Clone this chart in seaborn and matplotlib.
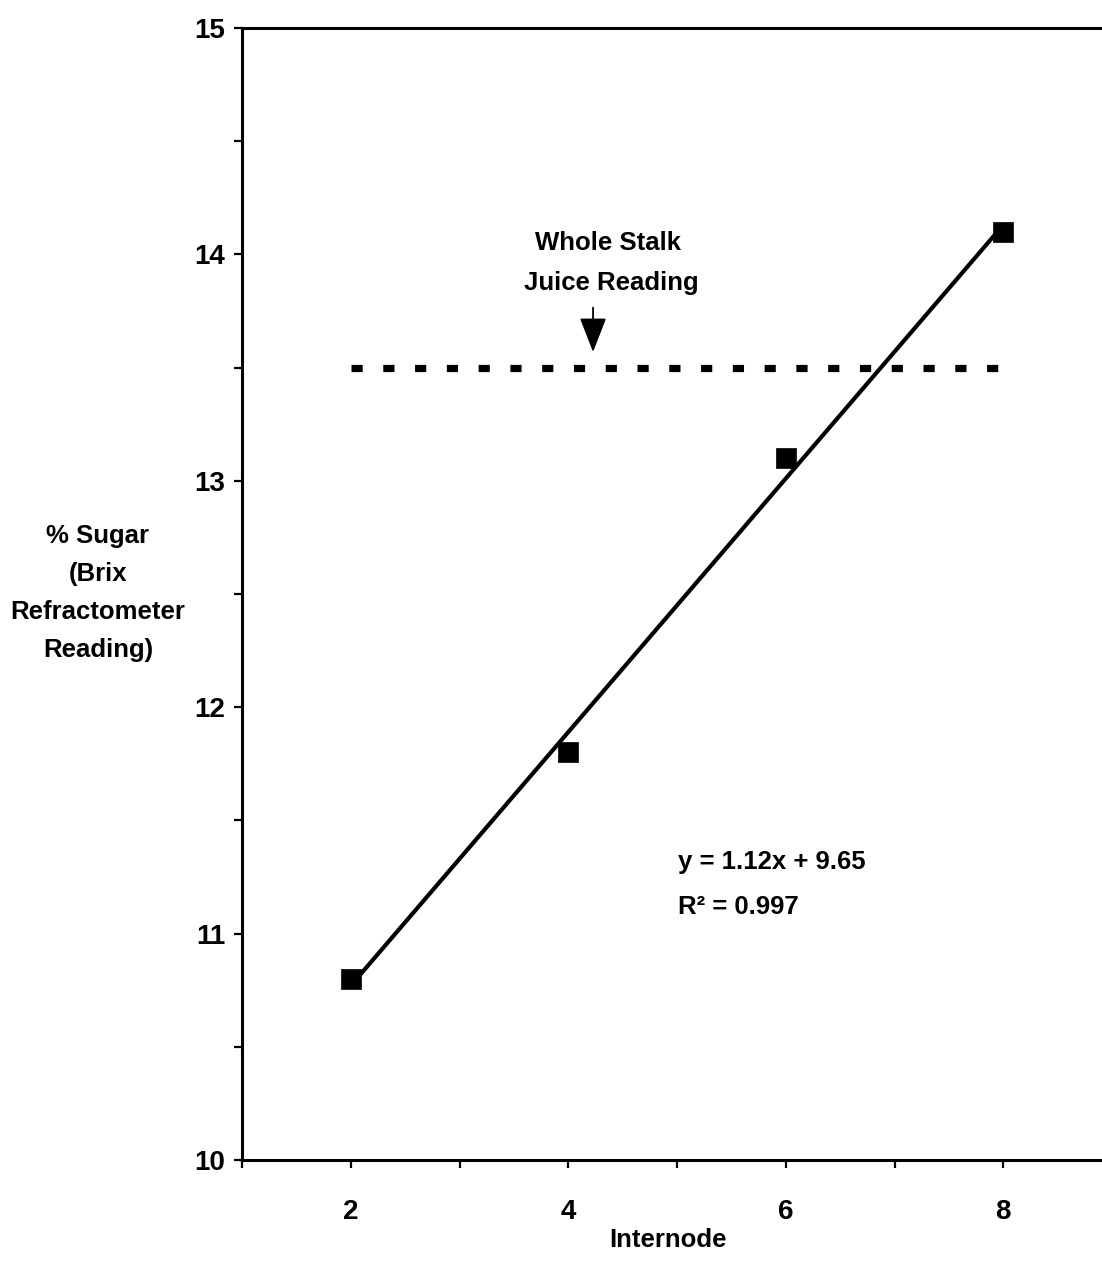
import matplotlib
matplotlib.use("Agg")
import matplotlib.pyplot as plt
import seaborn as sns
import numpy as np
import pandas as pd

# ---- data ----
internode = [2, 4, 6, 8]
sugar = [10.8, 11.8, 13.1, 14.1]
fit_slope = 1.12        # per internode index (x/2)
fit_intercept = 9.65
whole_stalk_reading = 13.5
x_ticks = [1, 2, 3, 4, 5, 6, 7, 8, 9]
x_tick_labels = ["", "2", "", "4", "", "6", "", "8", ""]
y_ticks = [10, 10.5, 11, 11.5, 12, 12.5, 13, 13.5, 14, 14.5, 15]
y_tick_labels = ["10", "", "11", "", "12", "", "13", "", "14", "", "15"]

sns.set_theme(style="white")
plt.rcParams['font.family'] = ["Liberation Sans", "DejaVu Sans"]
plt.rcParams['font.weight'] = 'bold'
plt.rcParams['text.color'] = 'black'
plt.rcParams['axes.labelcolor'] = 'black'
plt.rcParams['xtick.color'] = 'black'
plt.rcParams['ytick.color'] = 'black'

fs = 18.5
tfs = 20

W, H = 1102, 1279
fig = plt.figure(figsize=(W / 100, H / 100), dpi=100)
L, R, T, B = 242, 1112, 28, 1160
ax = fig.add_axes([L / W, 1 - B / H, (R - L) / W, (B - T) / H])

df = pd.DataFrame({"Internode": internode, "Sugar": sugar})
fit_x = [internode[0], internode[-1]]
fit_df = pd.DataFrame({"x": fit_x,
                       "y": [fit_slope * (v / 2) + fit_intercept for v in fit_x]})
ref_df = pd.DataFrame({"x": fit_x, "y": [whole_stalk_reading] * 2})

sns.lineplot(data=fit_df, x="x", y="y", ax=ax, color="black", lw=3.0, zorder=2)
sns.lineplot(data=ref_df, x="x", y="y", ax=ax, color="black", lw=5.2,
             linestyle=(0, (1.55, 2.85)), zorder=2)
ax.lines[-1].set_dash_capstyle("butt")
sns.scatterplot(data=df, x="Internode", y="Sugar", ax=ax, marker="s", s=190,
                color="black", edgecolor="black", linewidth=0.5, zorder=3)

ax.set_xlim(1, 9)
ax.set_ylim(10, 15)
ax.set_xticks(x_ticks)
ax.set_xticklabels(x_tick_labels, fontsize=tfs, fontweight="bold", color="black")
ax.set_yticks(y_ticks)
ax.set_yticklabels(y_tick_labels, fontsize=tfs, fontweight="bold", color="black")
ax.tick_params(axis="x", direction="out", length=6, width=1.6, color="black",
               pad=22, bottom=True)
ax.tick_params(axis="y", direction="out", length=6, width=1.6, color="black",
               pad=6, left=True)

for s in ["left", "bottom", "top"]:
    ax.spines[s].set_visible(True)
    ax.spines[s].set_color("black")
    ax.spines[s].set_linewidth(2.2)
ax.spines["right"].set_visible(False)

ax.set_xlabel("Internode", fontsize=fs, fontweight="bold", va="center", color="black")
ax.xaxis.set_label_coords((668 - L) / (R - L), (B - 1240) / (B - T))
ax.set_ylabel("% Sugar\n(Brix\nRefractometer\nReading)", fontsize=fs,
              fontweight="bold", rotation=0, ha="center", va="center",
              multialignment="center", linespacing=1.75, color="black")
ax.yaxis.set_label_coords((98 - L) / (R - L), (B - 593) / (B - T))

ax.text(4.366, 14.05, "Whole Stalk", fontsize=fs, fontweight="bold",
        ha="center", va="center", color="black")
ax.text(4.40, 13.874, "Juice Reading", fontsize=fs, fontweight="bold",
        ha="center", va="center", color="black")
ax.annotate("", xy=(4.228, 13.569), xytext=(4.228, 13.765),
            arrowprops=dict(arrowstyle="-|>,head_length=1.8,head_width=0.7",
                            color="black", lw=1.3, shrinkA=0, shrinkB=0))

ax.text(5.01, 11.316, "y = 1.12x + 9.65", fontsize=fs, fontweight="bold",
        ha="left", va="center", color="black")
ax.text(5.01, 11.117, "R² = 0.997", fontsize=fs, fontweight="bold",
        ha="left", va="center", color="black")

fig.savefig("out.png", dpi=100)
